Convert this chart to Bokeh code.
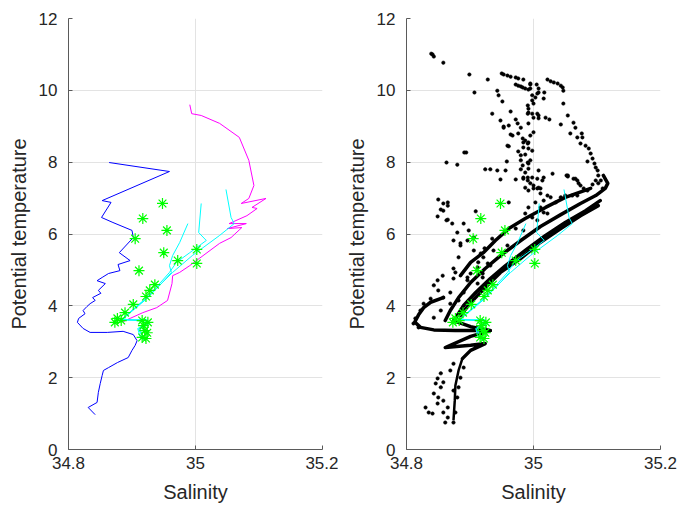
from bokeh.plotting import figure
from bokeh.layouts import row
from bokeh.models import FixedTicker, CustomJSTickFormatter
from bokeh.embed import file_html
from bokeh.resources import INLINE

# ---------------- data ----------------
# CTD profile (blue)
blue_sal = [34.864, 34.959, 34.853, 34.867, 34.852, 34.870, 34.900, 34.902, 34.880, 34.897,
            34.878, 34.881, 34.863, 34.853, 34.845, 34.858, 34.847, 34.851, 34.838, 34.842,
            34.834, 34.829, 34.823, 34.826, 34.816, 34.814, 34.823, 34.834, 34.861, 34.886,
            34.902, 34.908, 34.905, 34.900, 34.894, 34.877, 34.863, 34.855, 34.853, 34.850,
            34.847, 34.845, 34.831, 34.842]
blue_temp = [7.99, 7.74, 6.93, 6.88, 6.46, 6.32, 6.10, 5.90, 5.48, 5.26,
             5.15, 4.98, 4.90, 4.79, 4.70, 4.62, 4.43, 4.35, 4.23, 4.15,
             4.06, 3.98, 3.87, 3.78, 3.65, 3.54, 3.37, 3.26, 3.26, 3.29,
             3.20, 3.03, 2.90, 2.76, 2.56, 2.42, 2.28, 2.20, 2.06, 1.84,
             1.59, 1.31, 1.17, 0.97]

# CTD profile (magenta)
mag_sal = [34.991, 34.994, 35.009, 35.038, 35.069, 35.084, 35.092, 35.084, 35.072, 35.111,
           35.089, 35.097, 35.081, 35.053, 35.080, 35.050, 35.073, 35.056, 35.038, 35.006,
           34.991, 34.975, 34.964, 34.963, 34.956, 34.939, 34.917, 34.897, 34.886]
mag_temp = [9.60, 9.35, 9.30, 9.08, 8.69, 8.05, 7.35, 6.99, 6.85, 6.99,
            6.74, 6.71, 6.51, 6.29, 6.29, 6.15, 6.18, 5.90, 5.74, 5.32,
            5.12, 4.93, 4.84, 4.62, 4.15, 3.95, 3.81, 3.65, 3.56]

# CTD casts (cyan)
cyan_a_sal = [35.048, 35.056, 35.061, 35.038, 34.995, 34.964, 34.945, 34.922, 34.898, 34.881,
              34.923, 34.928, 34.909, 34.913, 34.920]
cyan_a_temp = [7.24, 6.46, 6.29, 5.96, 5.40, 4.93, 4.60, 4.18, 3.82, 3.59,
               3.62, 3.51, 3.37, 3.12, 3.03]
cyan_b_sal = [35.009, 35.005, 35.017, 34.991, 34.970, 34.959, 34.940, 34.918, 34.895, 34.884,
              34.920, 34.925, 34.912, 34.916]
cyan_b_temp = [6.85, 6.04, 5.82, 5.48, 5.21, 4.93, 4.55, 4.15, 3.80, 3.62,
               3.60, 3.50, 3.40, 3.15]
cyan_c_sal = [34.988, 34.975, 34.964, 34.959, 34.962, 34.948, 34.926, 34.902, 34.886, 34.918,
              34.922, 34.910, 34.915, 34.921]
cyan_c_temp = [6.29, 5.76, 5.40, 5.12, 4.93, 4.65, 4.25, 3.90, 3.63, 3.57,
               3.45, 3.35, 3.20, 3.08]

# bottle samples (green)
bottle_sal = [34.948, 34.917, 34.955, 34.905, 34.950, 35.002, 34.972, 35.002, 34.911, 34.936,
              34.928, 34.922, 34.902, 34.889, 34.877, 34.873, 34.883, 34.916, 34.925, 34.920,
              34.916, 34.922, 34.918, 34.924]
bottle_temp = [6.85, 6.43, 6.10, 5.87, 5.48, 5.57, 5.26, 5.18, 4.98, 4.59,
               4.43, 4.26, 4.04, 3.81, 3.65, 3.54, 3.59, 3.59, 3.54, 3.31,
               3.12, 3.09, 3.45, 3.25]

# historical observations (black dots)
obs_points = [
    (34.839, 11.02), (34.841, 11.00), (34.843, 10.94), (34.858, 10.77), (34.899, 10.44),
    (34.907, 9.94), (34.928, 10.30), (34.950, 10.47), (34.953, 10.44), (34.959, 10.41),
    (34.964, 10.38), (34.972, 10.36), (34.976, 10.33), (34.984, 10.30), (34.972, 10.16),
    (34.976, 10.13), (34.983, 10.08), (34.987, 10.05), (34.992, 10.02), (34.995, 10.19),
    (35.022, 10.30), (35.027, 10.25), (35.032, 10.22), (35.038, 10.19), (35.043, 10.13),
    (35.046, 10.08), (35.047, 9.99), (34.943, 9.99), (34.945, 9.86), (34.951, 9.69),
    (34.935, 9.35), (34.964, 9.41), (34.948, 9.16), (34.953, 8.99), (34.961, 9.02),
    (34.972, 9.19), (34.975, 9.08), (34.980, 8.96), (34.976, 8.80), (34.964, 8.77),
    (34.983, 8.66), (34.984, 8.55), (34.987, 8.60), (34.991, 8.52), (34.992, 8.55),
    (34.984, 8.41), (34.992, 8.38), (34.961, 8.44), (34.976, 8.30), (34.980, 8.19),
    (34.987, 8.21), (34.998, 8.32), (34.995, 8.74), (35.000, 8.83), (34.992, 9.08),
    (35.000, 9.24), (34.991, 9.35), (34.992, 9.38), (34.998, 9.35), (35.006, 9.35),
    (35.008, 9.30), (35.019, 9.24), (35.025, 9.19), (35.008, 9.22), (34.991, 9.58),
    (34.992, 9.49), (34.998, 9.72), (35.000, 9.63), (35.003, 9.80), (35.006, 9.91),
    (34.995, 10.05), (34.998, 9.86), (35.008, 10.05), (35.008, 9.94), (35.016, 9.77),
    (35.017, 9.94), (34.980, 10.11), (34.995, 10.16), (35.005, 10.16),
    (35.054, 9.30), (35.043, 9.05), (35.063, 9.10), (35.066, 8.96), (35.058, 8.80),
    (35.076, 8.80), (35.069, 8.69), (35.077, 8.69), (35.074, 8.52), (35.082, 8.46),
    (35.087, 8.38), (35.090, 8.24), (35.093, 8.10), (35.085, 8.02), (35.096, 7.96),
    (35.098, 7.85), (35.101, 7.77), (35.102, 7.63), (35.106, 7.49), (35.102, 7.41),
    (35.109, 7.27), (35.047, 9.63),
    (34.891, 8.27), (34.894, 8.27), (34.863, 7.99), (34.880, 7.93), (34.958, 8.02),
    (34.924, 7.80), (34.932, 7.80), (34.943, 7.77), (34.956, 7.77), (34.948, 7.52),
    (34.972, 7.52), (34.980, 8.05), (34.983, 7.91), (34.991, 7.99), (34.995, 8.05),
    (34.992, 7.96), (34.980, 7.80), (34.987, 7.71), (34.992, 7.82), (34.984, 7.57),
    (34.991, 7.49), (34.998, 7.57), (35.008, 7.77), (35.006, 7.54), (35.014, 7.49),
    (35.016, 7.57), (35.030, 7.68), (34.987, 7.29), (35.000, 7.35), (35.006, 7.27),
    (35.011, 7.27), (35.054, 7.60), (35.063, 7.54), (35.069, 7.49), (35.071, 7.41),
    (35.079, 7.27), (35.093, 7.38), (35.098, 7.49), (35.052, 7.63), (34.967, 8.74),
    (34.959, 8.46), (34.953, 8.96),
    (34.850, 6.96), (34.858, 6.85), (34.865, 6.88), (34.854, 6.68), (34.849, 6.49),
    (34.865, 6.40), (34.872, 6.29), (34.890, 6.29), (34.898, 6.10), (34.909, 6.63),
    (34.961, 6.88), (34.923, 5.60), (34.885, 5.68), (34.865, 6.79), (34.858, 6.65),
    (34.863, 6.38), (34.880, 6.04), (34.874, 5.82), (34.885, 5.74), (34.896, 5.82),
    (34.906, 5.90), (34.906, 5.54), (34.921, 5.35), (34.917, 5.46), (34.913, 5.21),
    (34.928, 5.18), (34.912, 5.07), (34.882, 5.35), (34.874, 5.04), (34.877, 4.93),
    (34.896, 4.79), (34.920, 4.79), (34.932, 5.12), (34.937, 5.54), (34.959, 5.68),
    (34.935, 5.87), (34.972, 6.15), (34.984, 6.10),
    (34.984, 7.54), (34.991, 7.57), (34.995, 7.41), (35.000, 7.27), (34.992, 7.21),
    (35.008, 7.29), (35.011, 7.13), (35.022, 7.07), (35.027, 7.02), (35.016, 6.93),
    (35.003, 6.88), (35.011, 6.74), (35.016, 6.60), (35.022, 6.57), (34.992, 6.74),
    (34.987, 6.57), (34.998, 6.46), (35.006, 6.38), (35.066, 7.54), (35.074, 7.35),
    (35.085, 7.21), (35.054, 7.63), (35.069, 7.07), (35.061, 7.07), (35.050, 7.07),
    (35.043, 7.02), (35.035, 6.88),
    (34.857, 4.84), (34.849, 4.71), (34.843, 4.57), (34.850, 4.43), (34.869, 4.37),
    (34.858, 4.23), (34.838, 4.20), (34.827, 4.06), (34.822, 3.87), (34.814, 3.65),
    (34.811, 3.51), (34.819, 3.40), (34.843, 3.67), (34.854, 3.87), (34.869, 4.06),
    (34.882, 4.15), (34.890, 4.37), (34.874, 4.76), (34.896, 4.71), (34.912, 4.62),
    (34.901, 4.90), (34.920, 4.90),
    (34.874, 2.39), (34.869, 2.20), (34.854, 2.12), (34.849, 1.98), (34.846, 1.84),
    (34.858, 1.87), (34.854, 1.73), (34.843, 1.56), (34.850, 1.45), (34.858, 1.36),
    (34.865, 1.17), (34.830, 1.17), (34.835, 1.03), (34.841, 1.00), (34.858, 1.03),
    (34.865, 0.89), (34.874, 0.75), (34.861, 0.75), (34.849, 1.28), (34.877, 1.03),
    (34.880, 1.45), (34.882, 1.73), (34.885, 2.00), (34.890, 2.28), (34.874, 1.64),
]
obs_sal = [s for s, t in obs_points]
obs_temp = [t for s, t in obs_points]

# densely sampled stretches of the historical record (black bands)
band_sal = [
    [35.110, 35.117, 35.113, 35.098, 35.074, 35.043, 35.011, 34.980, 34.948, 34.924, 34.901, 34.882, 34.869, 34.861],
    [35.105, 35.082, 35.050, 35.019, 34.987, 34.956, 34.932, 34.909, 34.890, 34.877],
    [35.090, 35.050, 35.019, 34.987, 34.961, 34.940, 34.921, 34.901, 34.885],
    [35.102, 35.074, 35.043, 35.011, 34.980, 34.948, 34.924, 34.901, 34.885],
    [34.874, 34.901, 34.932, 34.901, 34.861, 34.901, 34.924, 34.901, 34.888],
    [34.858, 34.838, 34.827, 34.819, 34.813, 34.822, 34.843, 34.877, 34.932],
]
band_temp = [
    [7.63, 7.41, 7.27, 7.07, 6.85, 6.54, 6.21, 5.82, 5.40, 5.04, 4.65, 4.23, 3.87, 3.59],
    [6.93, 6.65, 6.32, 5.96, 5.54, 5.12, 4.76, 4.37, 4.01, 3.65],
    [7.27, 7.02, 6.74, 6.43, 6.15, 5.82, 5.48, 5.21, 4.84],
    [6.79, 6.51, 6.15, 5.77, 5.32, 4.93, 4.51, 4.09, 3.73],
    [3.59, 3.42, 3.31, 3.15, 2.84, 2.90, 2.95, 2.76, 2.53],
    [4.23, 4.10, 3.95, 3.75, 3.55, 3.40, 3.33, 3.31, 3.31],
]
tail_sal = [34.888, 34.882, 34.877, 34.876, 34.874]
tail_temp = [2.53, 2.20, 1.78, 1.36, 0.81]

sal_ticks = [34.8, 35.0, 35.2]
temp_ticks = [0, 2, 4, 6, 8, 10, 12]

# ---------------- styling helpers ----------------
FONT = "Liberation Sans"
TXT = "#262626"
BLUE, MAGENTA, CYAN, GREEN = "#0000ff", "#ff00ff", "#00ffff", "#00ff00"


def make_axes(width, left, right):
    p = figure(width=width, height=507, x_range=(34.8, 35.2), y_range=(0, 12),
               output_backend="svg", toolbar_location=None,
               min_border_left=left, min_border_right=right,
               min_border_top=18, min_border_bottom=58)
    p.outline_line_color = None
    p.background_fill_color = "white"
    p.border_fill_color = "white"
    p.xaxis.ticker = FixedTicker(ticks=sal_ticks)
    p.xaxis.formatter = CustomJSTickFormatter(
        code="return tick.toFixed(1).replace(/\\.0$/, '');")
    p.yaxis.ticker = FixedTicker(ticks=temp_ticks)
    p.xaxis.axis_label = "Salinity"
    p.yaxis.axis_label = "Potential temperature"
    for ax in (p.xaxis[0], p.yaxis[0]):
        ax.axis_line_color = "#5a5a5a"
        ax.axis_line_width = 1
        ax.major_tick_line_color = "#5a5a5a"
        ax.major_tick_in = 4
        ax.major_tick_out = 0
        ax.minor_tick_line_color = None
        ax.major_label_text_font = FONT
        ax.major_label_text_font_size = "17px"
        ax.major_label_text_color = TXT
        ax.axis_label_text_font = FONT
        ax.axis_label_text_font_size = "20px"
        ax.axis_label_text_font_style = "normal"
        ax.axis_label_text_color = TXT
    p.xaxis.major_label_standoff = 7
    p.yaxis.major_label_standoff = 11
    p.xaxis.axis_label_standoff = 9
    p.yaxis.axis_label_standoff = 6
    p.grid.grid_line_color = "#e3e3e3"
    p.grid.grid_line_width = 1
    return p


def draw_casts(p):
    for s, t in ((cyan_a_sal, cyan_a_temp), (cyan_b_sal, cyan_b_temp), (cyan_c_sal, cyan_c_temp)):
        p.line(s, t, line_color=CYAN, line_width=1)


def draw_bottles(p):
    p.scatter(bottle_sal, bottle_temp, marker="asterisk", size=11,
              line_color=GREEN, line_width=1.2)


# ---------------- left panel: profiles ----------------
left = make_axes(338, 68, 16)
left.line(blue_sal, blue_temp, line_color=BLUE, line_width=1)
left.line(mag_sal, mag_temp, line_color=MAGENTA, line_width=1)
draw_casts(left)
draw_bottles(left)

# ---------------- right panel: with historical data ----------------
right = make_axes(339, 68, 17)
right.multi_line(band_sal, band_temp, line_color="black", line_width=3.5,
                 line_join="round", line_cap="round")
right.line(tail_sal, tail_temp, line_color="black", line_width=2.5)
right.scatter(obs_sal, obs_temp, marker="circle", size=3.5,
              fill_color="black", line_color="black", line_width=0.5)
draw_casts(right)
draw_bottles(right)

layout = row(left, right)
open("out.html", "w").write(file_html(layout, INLINE))
